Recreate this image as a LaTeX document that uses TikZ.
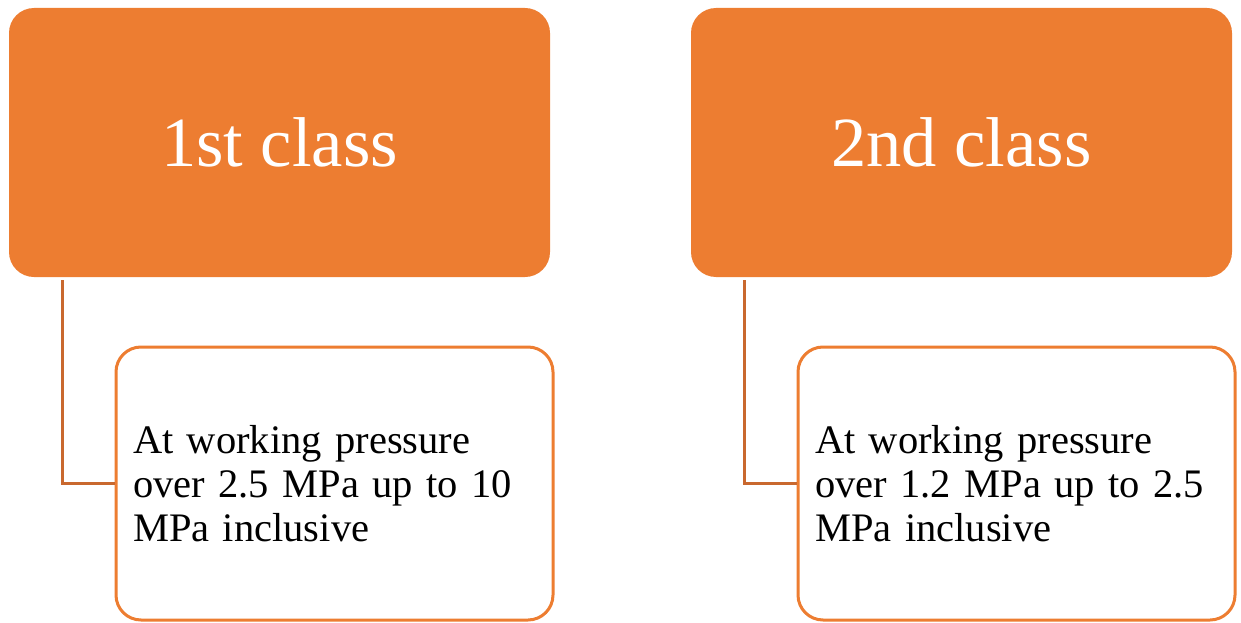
\documentclass[tikz,border=0pt]{standalone}
\usepackage{fontspec}
\setmainfont{Liberation Serif}
\definecolor{accent}{HTML}{ED7D31}
\definecolor{linkc}{HTML}{C9682E}
\begin{document}
\begin{tikzpicture}[x=1pt,y=-1pt,
  topbox/.style={fill=accent,draw=none,rounded corners=25pt,minimum width=541pt,minimum height=269pt,inner sep=0pt,text=white,font=\fontsize{70.5}{80}\selectfont},
  subbox/.style={draw=accent,line width=3pt,fill=white,rounded corners=25pt,minimum width=437pt,minimum height=273pt,inner sep=17pt,text width=403pt,align=left,font=\fontsize{40.5}{44}\selectfont},
  link/.style={draw=linkc,line width=2.7pt}]
\useasboundingbox (0,0) rectangle (1241,623);
\node[topbox] (t1) at (279.5,142.5) {1st class};
\node[topbox] (t2) at (961.5,142.5) {2nd class};
\node[subbox] (b1) at (334.5,483.5) {At working pressure\\over 2.5 MPa up to 10\\MPa inclusive};
\node[subbox] (b2) at (1016.5,483.5) {At working pressure\\over 1.2 MPa up to 2.5\\MPa inclusive};
\draw[link] ([xshift=54pt,yshift=-3pt]t1.south west) |- (b1.west);
\draw[link] ([xshift=54pt,yshift=-3pt]t2.south west) |- (b2.west);
\end{tikzpicture}
\end{document}
